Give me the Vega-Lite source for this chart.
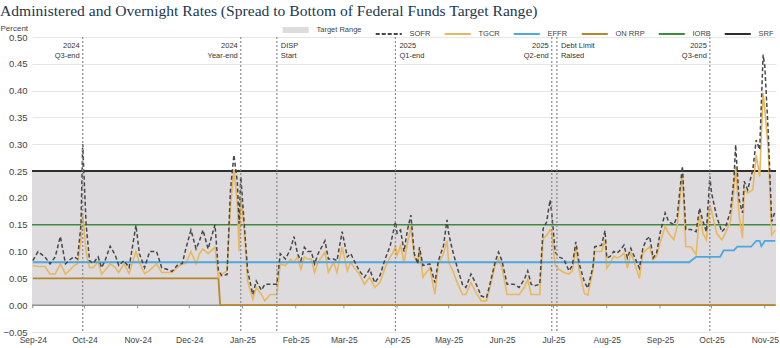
{
  "$schema": "https://vega.github.io/schema/vega-lite/v6.json",
  "width": 744,
  "height": 295,
  "autosize": "none",
  "padding": {"left": 32, "top": 37, "right": 4, "bottom": 16},
  "background": "white",
  "title": {"text": "Administered and Overnight Rates (Spread to Bottom of Federal Funds Target Range)", "anchor": "start", "frame": "bounds", "dx": 0, "dy": 11, "offset": 3, "font": "Liberation Serif", "fontSize": 15.6, "fontWeight": "normal", "color": "#22374d", "baseline": "alphabetic"},
  "config": {
    "view": {"stroke": null},
    "font": "Liberation Sans",
    "legend": {"title": null, "orient": "none", "legendX": 260, "legendY": -11, "direction": "horizontal", "symbolType": "stroke", "symbolSize": 680, "labelFontSize": 7.5, "labelColor": "#444444", "columnPadding": 9, "labelOffset": 17, "labelFont": "Liberation Sans"}
  },
  "datasets": {
    "range": [{"series": "Target Range", "lower": 0, "upper": 0.25}],
    "levels": [{"series": "IORB", "value": 0.15}, {"series": "SRF", "value": 0.25}],
    "months": [
      {"date": "2024/09/01"}, {"date": "2024/10/01"}, {"date": "2024/11/01"}, {"date": "2024/12/01"},
      {"date": "2025/01/01"}, {"date": "2025/02/01"}, {"date": "2025/03/01"}, {"date": "2025/04/01"},
      {"date": "2025/05/01"}, {"date": "2025/06/01"}, {"date": "2025/07/01"}, {"date": "2025/08/01"},
      {"date": "2025/09/01"}, {"date": "2025/10/01"}, {"date": "2025/11/01"}
    ],
    "steps": [
      {"series": "ON RRP", "date": "2024/09/01", "value": 0.05},
      {"series": "ON RRP", "date": "2024/12/18", "value": 0.05},
      {"series": "ON RRP", "date": "2024/12/19", "value": 0.0},
      {"series": "ON RRP", "date": "2025/11/07", "value": 0.0},
      {"series": "EFFR", "date": "2024/09/01", "value": 0.08},
      {"series": "EFFR", "date": "2025/09/18", "value": 0.08},
      {"series": "EFFR", "date": "2025/09/22", "value": 0.09},
      {"series": "EFFR", "date": "2025/10/06", "value": 0.09},
      {"series": "EFFR", "date": "2025/10/08", "value": 0.102},
      {"series": "EFFR", "date": "2025/10/14", "value": 0.102},
      {"series": "EFFR", "date": "2025/10/16", "value": 0.109},
      {"series": "EFFR", "date": "2025/10/24", "value": 0.109},
      {"series": "EFFR", "date": "2025/10/27", "value": 0.12},
      {"series": "EFFR", "date": "2025/10/29", "value": 0.12},
      {"series": "EFFR", "date": "2025/10/30", "value": 0.11},
      {"series": "EFFR", "date": "2025/11/01", "value": 0.12},
      {"series": "EFFR", "date": "2025/11/07", "value": 0.12}
    ],
    "events": [
      {"event": "2024 Q3-end", "date": "2024/09/30", "label": "2024\nQ3-end"},
      {"event": "2024 Year-end", "date": "2024/12/31", "label": "2024\nYear-end"},
      {"event": "DISP Start", "date": "2025/01/21", "label": "DISP\nStart"},
      {"event": "2025 Q1-end", "date": "2025/03/31", "label": "2025\nQ1-end"},
      {"event": "2025 Q2-end", "date": "2025/06/30", "label": "2025\nQ2-end"},
      {"event": "Debt Limit Raised", "date": "2025/07/03", "label": "Debt Limit\nRaised"},
      {"event": "2025 Q3-end", "date": "2025/09/30", "label": "2025\nQ3-end"}
    ],
    "daily": [
      {"date": "2024/09/01", "SOFR": 0.083, "TGCR": 0.074},
      {"date": "2024/09/04", "SOFR": 0.10, "TGCR": 0.072},
      {"date": "2024/09/08", "SOFR": 0.09, "TGCR": 0.072},
      {"date": "2024/09/11", "SOFR": 0.077, "TGCR": 0.058},
      {"date": "2024/09/14", "SOFR": 0.09, "TGCR": 0.058},
      {"date": "2024/09/17", "SOFR": 0.128, "TGCR": 0.077},
      {"date": "2024/09/20", "SOFR": 0.077, "TGCR": 0.058},
      {"date": "2024/09/23", "SOFR": 0.086, "TGCR": 0.067},
      {"date": "2024/09/25", "SOFR": 0.09, "TGCR": 0.074},
      {"date": "2024/09/27", "SOFR": 0.086, "TGCR": 0.077},
      {"date": "2024/09/29", "SOFR": 0.15, "TGCR": 0.12},
      {"date": "2024/09/30", "SOFR": 0.30, "TGCR": 0.17},
      {"date": "2024/10/02", "SOFR": 0.15, "TGCR": 0.10},
      {"date": "2024/10/04", "SOFR": 0.083, "TGCR": 0.07},
      {"date": "2024/10/06", "SOFR": 0.078, "TGCR": 0.07},
      {"date": "2024/10/09", "SOFR": 0.09, "TGCR": 0.08},
      {"date": "2024/10/11", "SOFR": 0.07, "TGCR": 0.058},
      {"date": "2024/10/13", "SOFR": 0.083, "TGCR": 0.065},
      {"date": "2024/10/16", "SOFR": 0.11, "TGCR": 0.077},
      {"date": "2024/10/19", "SOFR": 0.093, "TGCR": 0.07},
      {"date": "2024/10/21", "SOFR": 0.074, "TGCR": 0.061},
      {"date": "2024/10/24", "SOFR": 0.083, "TGCR": 0.077},
      {"date": "2024/10/27", "SOFR": 0.07, "TGCR": 0.059},
      {"date": "2024/10/31", "SOFR": 0.149, "TGCR": 0.10},
      {"date": "2024/11/02", "SOFR": 0.096, "TGCR": 0.08},
      {"date": "2024/11/05", "SOFR": 0.07, "TGCR": 0.059},
      {"date": "2024/11/08", "SOFR": 0.10, "TGCR": 0.065},
      {"date": "2024/11/12", "SOFR": 0.10, "TGCR": 0.077},
      {"date": "2024/11/15", "SOFR": 0.07, "TGCR": 0.061},
      {"date": "2024/11/18", "SOFR": 0.067, "TGCR": 0.061},
      {"date": "2024/11/21", "SOFR": 0.063, "TGCR": 0.061},
      {"date": "2024/11/24", "SOFR": 0.074, "TGCR": 0.07},
      {"date": "2024/11/27", "SOFR": 0.078, "TGCR": 0.077},
      {"date": "2024/11/29", "SOFR": 0.105, "TGCR": 0.078},
      {"date": "2024/12/02", "SOFR": 0.14, "TGCR": 0.10},
      {"date": "2024/12/05", "SOFR": 0.105, "TGCR": 0.077},
      {"date": "2024/12/07", "SOFR": 0.12, "TGCR": 0.096},
      {"date": "2024/12/09", "SOFR": 0.14, "TGCR": 0.105},
      {"date": "2024/12/12", "SOFR": 0.105, "TGCR": 0.096},
      {"date": "2024/12/16", "SOFR": 0.15, "TGCR": 0.108},
      {"date": "2024/12/18", "SOFR": 0.064, "TGCR": 0.052},
      {"date": "2024/12/20", "SOFR": 0.055, "TGCR": 0.058},
      {"date": "2024/12/23", "SOFR": 0.057, "TGCR": 0.064},
      {"date": "2024/12/25", "SOFR": 0.215, "TGCR": 0.184},
      {"date": "2024/12/27", "SOFR": 0.28, "TGCR": 0.253},
      {"date": "2024/12/29", "SOFR": 0.23, "TGCR": 0.19},
      {"date": "2024/12/30", "SOFR": 0.152, "TGCR": 0.10},
      {"date": "2024/12/31", "SOFR": 0.24, "TGCR": 0.203},
      {"date": "2025/01/02", "SOFR": 0.152, "TGCR": 0.14},
      {"date": "2025/01/04", "SOFR": 0.064, "TGCR": 0.045},
      {"date": "2025/01/07", "SOFR": 0.02, "TGCR": 0.011},
      {"date": "2025/01/09", "SOFR": 0.045, "TGCR": 0.033},
      {"date": "2025/01/12", "SOFR": 0.028, "TGCR": 0.02},
      {"date": "2025/01/14", "SOFR": 0.039, "TGCR": 0.008},
      {"date": "2025/01/17", "SOFR": 0.039, "TGCR": 0.02},
      {"date": "2025/01/21", "SOFR": 0.039, "TGCR": 0.02},
      {"date": "2025/01/23", "SOFR": 0.096, "TGCR": 0.077},
      {"date": "2025/01/26", "SOFR": 0.086, "TGCR": 0.074},
      {"date": "2025/01/29", "SOFR": 0.105, "TGCR": 0.086},
      {"date": "2025/01/31", "SOFR": 0.128, "TGCR": 0.08},
      {"date": "2025/02/02", "SOFR": 0.096, "TGCR": 0.09},
      {"date": "2025/02/04", "SOFR": 0.083, "TGCR": 0.067},
      {"date": "2025/02/06", "SOFR": 0.108, "TGCR": 0.09},
      {"date": "2025/02/08", "SOFR": 0.10, "TGCR": 0.086},
      {"date": "2025/02/10", "SOFR": 0.10, "TGCR": 0.086},
      {"date": "2025/02/12", "SOFR": 0.077, "TGCR": 0.061},
      {"date": "2025/02/14", "SOFR": 0.096, "TGCR": 0.08},
      {"date": "2025/02/18", "SOFR": 0.12, "TGCR": 0.099},
      {"date": "2025/02/20", "SOFR": 0.086, "TGCR": 0.061},
      {"date": "2025/02/23", "SOFR": 0.086, "TGCR": 0.08},
      {"date": "2025/02/25", "SOFR": 0.083, "TGCR": 0.061},
      {"date": "2025/02/28", "SOFR": 0.137, "TGCR": 0.108},
      {"date": "2025/03/03", "SOFR": 0.09, "TGCR": 0.064},
      {"date": "2025/03/05", "SOFR": 0.096, "TGCR": 0.08},
      {"date": "2025/03/07", "SOFR": 0.083, "TGCR": 0.07},
      {"date": "2025/03/10", "SOFR": 0.064, "TGCR": 0.058},
      {"date": "2025/03/13", "SOFR": 0.052, "TGCR": 0.039},
      {"date": "2025/03/16", "SOFR": 0.067, "TGCR": 0.052},
      {"date": "2025/03/19", "SOFR": 0.042, "TGCR": 0.033},
      {"date": "2025/03/22", "SOFR": 0.055, "TGCR": 0.042},
      {"date": "2025/03/25", "SOFR": 0.086, "TGCR": 0.07},
      {"date": "2025/03/28", "SOFR": 0.111, "TGCR": 0.09},
      {"date": "2025/03/30", "SOFR": 0.14, "TGCR": 0.10},
      {"date": "2025/03/31", "SOFR": 0.155, "TGCR": 0.111},
      {"date": "2025/04/01", "SOFR": 0.134, "TGCR": 0.093},
      {"date": "2025/04/03", "SOFR": 0.14, "TGCR": 0.111},
      {"date": "2025/04/05", "SOFR": 0.10, "TGCR": 0.08},
      {"date": "2025/04/07", "SOFR": 0.14, "TGCR": 0.115},
      {"date": "2025/04/09", "SOFR": 0.168, "TGCR": 0.146},
      {"date": "2025/04/11", "SOFR": 0.096, "TGCR": 0.09},
      {"date": "2025/04/13", "SOFR": 0.077, "TGCR": 0.08},
      {"date": "2025/04/14", "SOFR": 0.108, "TGCR": 0.105},
      {"date": "2025/04/16", "SOFR": 0.074, "TGCR": 0.052},
      {"date": "2025/04/20", "SOFR": 0.077, "TGCR": 0.07},
      {"date": "2025/04/23", "SOFR": 0.042, "TGCR": 0.02},
      {"date": "2025/04/25", "SOFR": 0.083, "TGCR": 0.077},
      {"date": "2025/04/28", "SOFR": 0.111, "TGCR": 0.096},
      {"date": "2025/04/30", "SOFR": 0.159, "TGCR": 0.12},
      {"date": "2025/05/01", "SOFR": 0.134, "TGCR": 0.08},
      {"date": "2025/05/03", "SOFR": 0.105, "TGCR": 0.067},
      {"date": "2025/05/06", "SOFR": 0.07, "TGCR": 0.042},
      {"date": "2025/05/09", "SOFR": 0.039, "TGCR": 0.02},
      {"date": "2025/05/11", "SOFR": 0.033, "TGCR": 0.02},
      {"date": "2025/05/14", "SOFR": 0.058, "TGCR": 0.042},
      {"date": "2025/05/17", "SOFR": 0.039, "TGCR": 0.023},
      {"date": "2025/05/20", "SOFR": 0.017, "TGCR": 0.008},
      {"date": "2025/05/23", "SOFR": 0.014, "TGCR": 0.008},
      {"date": "2025/05/25", "SOFR": 0.039, "TGCR": 0.033},
      {"date": "2025/05/28", "SOFR": 0.08, "TGCR": 0.074},
      {"date": "2025/05/30", "SOFR": 0.099, "TGCR": 0.086},
      {"date": "2025/06/01", "SOFR": 0.083, "TGCR": 0.07},
      {"date": "2025/06/04", "SOFR": 0.039, "TGCR": 0.02},
      {"date": "2025/06/08", "SOFR": 0.039, "TGCR": 0.02},
      {"date": "2025/06/11", "SOFR": 0.033, "TGCR": 0.02},
      {"date": "2025/06/14", "SOFR": 0.048, "TGCR": 0.033},
      {"date": "2025/06/16", "SOFR": 0.064, "TGCR": 0.048},
      {"date": "2025/06/18", "SOFR": 0.039, "TGCR": 0.02},
      {"date": "2025/06/20", "SOFR": 0.036, "TGCR": 0.02},
      {"date": "2025/06/23", "SOFR": 0.039, "TGCR": 0.02},
      {"date": "2025/06/25", "SOFR": 0.143, "TGCR": 0.124},
      {"date": "2025/06/27", "SOFR": 0.155, "TGCR": 0.13},
      {"date": "2025/06/29", "SOFR": 0.196, "TGCR": 0.14},
      {"date": "2025/06/30", "SOFR": 0.171, "TGCR": 0.137},
      {"date": "2025/07/02", "SOFR": 0.099, "TGCR": 0.074},
      {"date": "2025/07/04", "SOFR": 0.09, "TGCR": 0.067},
      {"date": "2025/07/07", "SOFR": 0.086, "TGCR": 0.061},
      {"date": "2025/07/10", "SOFR": 0.064, "TGCR": 0.058},
      {"date": "2025/07/12", "SOFR": 0.074, "TGCR": 0.064},
      {"date": "2025/07/14", "SOFR": 0.118, "TGCR": 0.108},
      {"date": "2025/07/16", "SOFR": 0.077, "TGCR": 0.064},
      {"date": "2025/07/19", "SOFR": 0.043, "TGCR": 0.022},
      {"date": "2025/07/21", "SOFR": 0.032, "TGCR": 0.019},
      {"date": "2025/07/24", "SOFR": 0.072, "TGCR": 0.066},
      {"date": "2025/07/25", "SOFR": 0.109, "TGCR": 0.10},
      {"date": "2025/07/27", "SOFR": 0.11, "TGCR": 0.10},
      {"date": "2025/07/29", "SOFR": 0.112, "TGCR": 0.10},
      {"date": "2025/07/31", "SOFR": 0.139, "TGCR": 0.122},
      {"date": "2025/08/01", "SOFR": 0.088, "TGCR": 0.069},
      {"date": "2025/08/03", "SOFR": 0.091, "TGCR": 0.078},
      {"date": "2025/08/05", "SOFR": 0.10, "TGCR": 0.091},
      {"date": "2025/08/07", "SOFR": 0.097, "TGCR": 0.088},
      {"date": "2025/08/09", "SOFR": 0.103, "TGCR": 0.091},
      {"date": "2025/08/11", "SOFR": 0.112, "TGCR": 0.097},
      {"date": "2025/08/13", "SOFR": 0.088, "TGCR": 0.069},
      {"date": "2025/08/15", "SOFR": 0.106, "TGCR": 0.097},
      {"date": "2025/08/17", "SOFR": 0.091, "TGCR": 0.081},
      {"date": "2025/08/20", "SOFR": 0.069, "TGCR": 0.05},
      {"date": "2025/08/22", "SOFR": 0.106, "TGCR": 0.097},
      {"date": "2025/08/24", "SOFR": 0.122, "TGCR": 0.103},
      {"date": "2025/08/26", "SOFR": 0.128, "TGCR": 0.109},
      {"date": "2025/08/28", "SOFR": 0.088, "TGCR": 0.085},
      {"date": "2025/08/30", "SOFR": 0.097, "TGCR": 0.091},
      {"date": "2025/09/01", "SOFR": 0.134, "TGCR": 0.116},
      {"date": "2025/09/04", "SOFR": 0.172, "TGCR": 0.147},
      {"date": "2025/09/06", "SOFR": 0.156, "TGCR": 0.134},
      {"date": "2025/09/09", "SOFR": 0.15, "TGCR": 0.122},
      {"date": "2025/09/11", "SOFR": 0.165, "TGCR": 0.147},
      {"date": "2025/09/14", "SOFR": 0.259, "TGCR": 0.246},
      {"date": "2025/09/16", "SOFR": 0.141, "TGCR": 0.109},
      {"date": "2025/09/19", "SOFR": 0.141, "TGCR": 0.109},
      {"date": "2025/09/22", "SOFR": 0.137, "TGCR": 0.094},
      {"date": "2025/09/24", "SOFR": 0.181, "TGCR": 0.169},
      {"date": "2025/09/26", "SOFR": 0.156, "TGCR": 0.134},
      {"date": "2025/09/28", "SOFR": 0.137, "TGCR": 0.122},
      {"date": "2025/09/30", "SOFR": 0.24, "TGCR": 0.187},
      {"date": "2025/10/01", "SOFR": 0.209, "TGCR": 0.175},
      {"date": "2025/10/04", "SOFR": 0.165, "TGCR": 0.134},
      {"date": "2025/10/07", "SOFR": 0.137, "TGCR": 0.122},
      {"date": "2025/10/09", "SOFR": 0.144, "TGCR": 0.134},
      {"date": "2025/10/12", "SOFR": 0.175, "TGCR": 0.156},
      {"date": "2025/10/14", "SOFR": 0.234, "TGCR": 0.215},
      {"date": "2025/10/15", "SOFR": 0.299, "TGCR": 0.259},
      {"date": "2025/10/17", "SOFR": 0.197, "TGCR": 0.169},
      {"date": "2025/10/19", "SOFR": 0.172, "TGCR": 0.125},
      {"date": "2025/10/20", "SOFR": 0.231, "TGCR": 0.215},
      {"date": "2025/10/22", "SOFR": 0.215, "TGCR": 0.209},
      {"date": "2025/10/25", "SOFR": 0.252, "TGCR": 0.215},
      {"date": "2025/10/27", "SOFR": 0.308, "TGCR": 0.28},
      {"date": "2025/10/29", "SOFR": 0.29, "TGCR": 0.24},
      {"date": "2025/10/31", "SOFR": 0.467, "TGCR": 0.396},
      {"date": "2025/11/01", "SOFR": 0.445, "TGCR": 0.364},
      {"date": "2025/11/03", "SOFR": 0.321, "TGCR": 0.29},
      {"date": "2025/11/05", "SOFR": 0.156, "TGCR": 0.131},
      {"date": "2025/11/07", "SOFR": 0.175, "TGCR": 0.14}
    ]
  },
  "layer": [
    {
      "data": {"name": "range"},
      "mark": {"type": "rect", "color": "#dddbde"},
      "encoding": {
        "y": {"field": "lower", "type": "quantitative", "scale": {"domain": [-0.05, 0.5], "nice": false, "zero": false},
          "axis": {"values": [-0.05, 0, 0.05, 0.1, 0.15, 0.2, 0.25, 0.3, 0.35, 0.4, 0.45, 0.5], "tickCount": 30, "format": ".2f", "labelOverlap": false, "labelBound": false, "grid": true, "gridColor": "#e6e6e6", "gridWidth": 1, "domain": false, "ticks": false, "labelFontSize": 9.5, "labelColor": "#444444", "labelPadding": 5, "title": "Percent", "titleAngle": 0, "titleAlign": "left", "titleX": -32, "titleY": -9, "titleBaseline": "middle", "titleFontSize": 8, "titleFontWeight": "normal", "titleColor": "#444444", "titleFont": "Liberation Sans"}},
        "y2": {"field": "upper"}
      }
    },
    {
      "data": {"name": "range"},
      "mark": {"type": "rule", "color": "#8f8f8f", "strokeWidth": 1.5},
      "encoding": {"y": {"field": "lower", "type": "quantitative"}}
    },
    {
      "data": {"name": "months"},
      "mark": {"type": "rule", "color": "#8f8f8f", "strokeWidth": 1},
      "encoding": {"x": {"field": "date", "type": "temporal"}, "y": {"datum": 0}, "y2": {"datum": -0.006}}
    },
    {
      "data": {"name": "steps"},
      "transform": [{"filter": "datum.series === 'ON RRP'"}],
      "mark": {"type": "line", "strokeWidth": 1.8},
      "encoding": {
        "x": {"field": "date", "type": "temporal",
          "scale": {"domain": [{"year": 2024, "month": 8, "date": 31, "hours": 12}, {"year": 2025, "month": 11, "date": 7, "hours": 12}]},
          "axis": {"format": "%b-%y", "tickCount": {"interval": "month", "step": 1}, "labelFlush": false, "labelOverlap": false, "grid": false, "domain": false, "ticks": false, "labelFontSize": 8.5, "labelColor": "#444444", "labelPadding": 3, "title": null}},
        "y": {"field": "value", "type": "quantitative"},
        "color": {"field": "series", "type": "nominal",
          "scale": {"domain": ["Target Range", "SOFR", "TGCR", "EFFR", "ON RRP", "IORB", "SRF"], "range": ["#dddbde", "#474747", "#ebb75e", "#4ea7e0", "#b8872d", "#3e8a3e", "#2e2e2e"]},
          "legend": {"encode": {"symbols": {"update": {
            "strokeDash": {"signal": "datum.value === 'SOFR' ? [4, 2] : [1, 0]"},
            "strokeWidth": {"signal": "datum.value === 'Target Range' ? 6 : 2"}
          }}}}}
      }
    },
    {
      "data": {"name": "levels"},
      "transform": [{"filter": "datum.series === 'IORB'"}],
      "mark": {"type": "rule", "strokeWidth": 1.6},
      "encoding": {
        "y": {"field": "value", "type": "quantitative"},
        "color": {"field": "series", "type": "nominal"}
      }
    },
    {
      "data": {"name": "levels"},
      "transform": [{"filter": "datum.series === 'SRF'"}],
      "mark": {"type": "rule", "strokeWidth": 2},
      "encoding": {
        "y": {"field": "value", "type": "quantitative"},
        "color": {"field": "series", "type": "nominal"}
      }
    },
    {
      "data": {"name": "daily"},
      "transform": [{"fold": ["SOFR", "TGCR"], "as": ["series", "value"]}, {"filter": "datum.series === 'TGCR'"}],
      "mark": {"type": "line", "strokeWidth": 1.6},
      "encoding": {
        "x": {"field": "date", "type": "temporal"},
        "y": {"field": "value", "type": "quantitative"},
        "color": {"field": "series", "type": "nominal"}
      }
    },
    {
      "data": {"name": "steps"},
      "transform": [{"filter": "datum.series === 'EFFR'"}],
      "mark": {"type": "line", "strokeWidth": 1.8},
      "encoding": {
        "x": {"field": "date", "type": "temporal"},
        "y": {"field": "value", "type": "quantitative"},
        "color": {"field": "series", "type": "nominal"}
      }
    },
    {
      "data": {"name": "daily"},
      "transform": [{"fold": ["SOFR", "TGCR"], "as": ["series", "value"]}, {"filter": "datum.series === 'SOFR'"}],
      "mark": {"type": "line", "strokeWidth": 1.5, "strokeDash": [4, 2.5]},
      "encoding": {
        "x": {"field": "date", "type": "temporal"},
        "y": {"field": "value", "type": "quantitative"},
        "color": {"field": "series", "type": "nominal"}
      }
    },
    {
      "data": {"name": "events"},
      "mark": {"type": "rule", "color": "#8a8a8a", "strokeDash": [2, 2], "strokeWidth": 1.2},
      "encoding": {"x": {"field": "date", "type": "temporal"}}
    },
    {
      "data": {"name": "events"},
      "transform": [{"filter": {"field": "event", "oneOf": ["2024 Q3-end", "2024 Year-end", "2025 Q2-end", "2025 Q3-end"]}}],
      "mark": {"type": "text", "align": "right", "baseline": "top", "dx": -3, "fontSize": 7.5, "lineHeight": 10, "lineBreak": "\n", "color": "#333333", "font": "Liberation Sans"},
      "encoding": {"x": {"field": "date", "type": "temporal"}, "y": {"datum": 0.49}, "text": {"field": "label"}}
    },
    {
      "data": {"name": "events"},
      "transform": [{"filter": {"field": "event", "oneOf": ["DISP Start", "2025 Q1-end", "Debt Limit Raised"]}}],
      "mark": {"type": "text", "align": "left", "baseline": "top", "dx": 4, "fontSize": 7.5, "lineHeight": 10, "lineBreak": "\n", "color": "#333333", "font": "Liberation Sans"},
      "encoding": {"x": {"field": "date", "type": "temporal"}, "y": {"datum": 0.49}, "text": {"field": "label"}}
    }
  ]
}
